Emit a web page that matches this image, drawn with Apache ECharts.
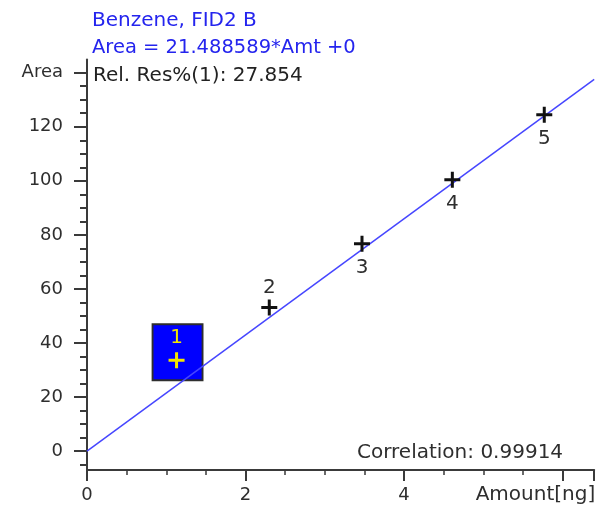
<!DOCTYPE html>
<html>
<head>
<meta charset="utf-8">
<script src="https://cdn.jsdelivr.net/npm/echarts@6/dist/echarts.min.js"></script>
<style>
  html, body { margin: 0; padding: 0; background: #fff; }
  #chart { width: 597px; height: 512px; }
</style>
</head>
<body>
<div id="chart"></div>
<script>
// Calibration levels for Benzene (FID2 B): amount injected [ng] and peak area
const levelNames = ['1', '2', '3', '4', '5'];
const amounts = [1.13, 2.30, 3.47, 4.61, 5.77];
const areas = [33.6, 53.1, 76.7, 100.4, 124.4];

// Fitted calibration curve: Area = slope * Amt + intercept
const slope = 21.488589;
const intercept = 0;
const fitRange = [0, 6.4];

// Axis ticks and labels
const xTickValues = [0, 2, 4, 6];
const xTickLabels = ['0', '2', '4', ''];
const yTickValues = [0, 20, 40, 60, 80, 100, 120, 140];
const yTickLabels = ['0', '20', '40', '60', '80', '100', '120', 'Area'];

// Header and report texts
const headerLines = ['Benzene, FID2 B', 'Area = 21.488589*Amt +0'];
const relResText = 'Rel. Res%(1): 27.854';
const correlationText = 'Correlation: 0.99914';
const xAxisTitle = 'Amount[ng]';

// Level flagged by the relative residual check
const flaggedIndex = 0;

const FONT = 'DejaVu Sans';
const INK = '#2e2e2e';
const AXIS = '#3a3a3a';

const Y_MIN = -7, Y_MAX = 144.85;

// minor ticks every 5 area units between the labelled ones
const yMinorValues = [];
for (let v = -5; v < Y_MAX; v += 5) {
  if (yTickValues.indexOf(v) < 0) yMinorValues.push(v);
}

const plusPath = 'path://M6.5,0h3v6.5h6.5v3h-6.5v6.5h-3v-6.5h-6.5v-3h6.5z';

// label placement per level (above for 1 and 2, below for the rest)
const labelAbove = { 0: 4, 1: 2 };

const pointData = amounts.map((x, i) => {
  const flagged = i === flaggedIndex;
  const above = labelAbove[i] !== undefined;
  return {
    value: [x, areas[i]],
    name: levelNames[i],
    itemStyle: { color: flagged ? '#f2e600' : '#111111' },
    label: {
      show: true,
      formatter: levelNames[i],
      position: above ? 'top' : 'bottom',
      distance: above ? labelAbove[i] : 6,
      fontFamily: FONT,
      fontSize: 20,
      color: flagged ? '#f2e600' : INK
    }
  };
});

const fitData = fitRange.map(x => [x, slope * x + intercept]);

const chart = echarts.init(document.getElementById('chart'), null, { renderer: 'canvas' });

chart.setOption({
  animation: false,
  backgroundColor: '#ffffff',
  textStyle: { fontFamily: FONT },
  title: [
    { text: headerLines[0], left: 92, top: 11, padding: 0,
      textStyle: { fontFamily: FONT, fontSize: 20, fontWeight: 'normal', color: '#2424ee' } },
    { text: headerLines[1], left: 92, top: 38, padding: 0,
      textStyle: { fontFamily: FONT, fontSize: 19.5, fontWeight: 'normal', color: '#2424ee' } },
    { text: relResText, left: 93, top: 66, padding: 0,
      textStyle: { fontFamily: FONT, fontSize: 20, fontWeight: 'normal', color: '#222222' } },
    { text: correlationText, left: 357, top: 443, padding: 0,
      textStyle: { fontFamily: FONT, fontSize: 20, fontWeight: 'normal', color: INK } }
  ],
  grid: {
    left: 87, right: 2.8, top: 59.6, bottom: 42,
    containLabel: false,
    outerBoundsMode: 'none'
  },
  xAxis: {
    type: 'value',
    min: fitRange[0],
    max: fitRange[1],
    interval: 2,
    axisLine: { onZero: false, lineStyle: { color: AXIS, width: 2 } },
    axisTick: { length: 11, lineStyle: { color: AXIS, width: 2 } },
    minorTick: { show: true, splitNumber: 4, length: 5, lineStyle: { color: AXIS, width: 1.5 } },
    splitLine: { show: false },
    minorSplitLine: { show: false },
    axisLabel: {
      margin: 16,
      fontFamily: FONT,
      fontSize: 18,
      color: INK,
      formatter: v => {
        const k = xTickValues.indexOf(v);
        return k < 0 ? '' : xTickLabels[k];
      }
    },
    name: xAxisTitle,
    nameLocation: 'end',
    nameGap: 1,
    nameMoveOverlap: false,
    nameTextStyle: {
      fontFamily: FONT,
      fontSize: 20,
      color: INK,
      align: 'right',
      verticalAlign: 'top',
      padding: [15, 0, 0, 0]
    }
  },
  yAxis: [
    {
      type: 'value',
      min: Y_MIN,
      max: Y_MAX,
      axisLine: { onZero: false, lineStyle: { color: AXIS, width: 2 } },
      axisTick: { customValues: yTickValues, length: 13, lineStyle: { color: AXIS, width: 2 } },
      splitLine: { show: false },
      axisLabel: {
        customValues: yTickValues,
        margin: 24,
        fontFamily: FONT,
        fontSize: 18,
        color: INK,
        formatter: v => {
          const k = yTickValues.indexOf(v);
          return k < 0 ? '' : yTickLabels[k];
        }
      }
    },
    {
      type: 'value',
      min: Y_MIN,
      max: Y_MAX,
      position: 'left',
      axisLine: { show: false, onZero: false },
      axisTick: { customValues: yMinorValues, length: 7, lineStyle: { color: AXIS, width: 2 } },
      axisLabel: { show: false },
      splitLine: { show: false }
    }
  ],
  series: [
    {
      // highlight box behind the flagged level
      name: 'flag',
      type: 'scatter',
      silent: true,
      z: 1,
      symbol: 'rect',
      symbolSize: [50, 56],
      symbolOffset: [1, -8],
      itemStyle: { color: '#0000ff', borderColor: '#2e2e2e', borderWidth: 2, opacity: 1 },
      data: [[amounts[flaggedIndex], areas[flaggedIndex]]]
    },
    {
      name: 'fit',
      type: 'line',
      z: 2,
      silent: true,
      showSymbol: false,
      symbol: 'none',
      lineStyle: { color: '#4646ff', width: 1.5 },
      data: fitData
    },
    {
      name: 'levels',
      type: 'scatter',
      z: 3,
      symbol: plusPath,
      symbolSize: 16,
      itemStyle: { opacity: 1 },
      data: pointData
    }
  ]
});
</script>
</body>
</html>
